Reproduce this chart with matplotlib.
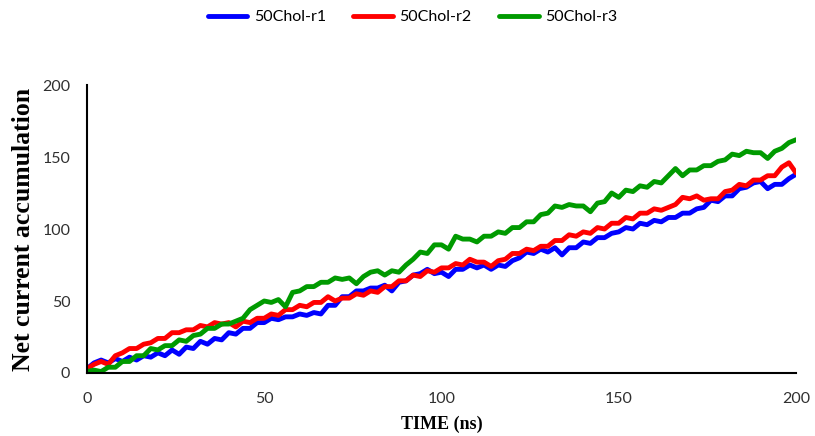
"""
Net current accumulation vs TIME, three 50Chol replicas
"""

import numpy as np
import matplotlib
matplotlib.use('Agg')
import matplotlib.pyplot as plt

# time axis (ns), one reading every 2 ns
time_ns = np.arange(0, 201, 2)

# values
r1 = [3, 7, 9, 7, 10, 8, 11, 9, 12, 11,
      14, 12, 16, 13, 18, 17, 22, 20, 24, 23,
      28, 27, 31, 31, 35, 35, 38, 37, 39, 39,
      41, 40, 42, 41, 47, 47, 53, 53, 57, 57,
      59, 59, 61, 57, 63, 64, 68, 69, 72, 69,
      70, 67, 72, 72, 75, 73, 75, 72, 75, 74,
      78, 80, 84, 83, 86, 84, 87, 82, 87, 87,
      91, 90, 94, 94, 97, 98, 101, 100, 104, 103,
      106, 105, 108, 108, 111, 111, 114, 115, 120, 119,
      123, 123, 128, 129, 132, 133, 128, 131, 131, 135,
      138]
r2 = [3, 6, 8, 6, 12, 14, 17, 17, 20, 21,
      24, 24, 28, 28, 30, 30, 33, 32, 35, 34,
      35, 32, 36, 35, 38, 38, 41, 40, 44, 44,
      47, 46, 49, 49, 53, 50, 52, 52, 55, 54,
      57, 56, 60, 60, 64, 64, 68, 67, 71, 70,
      73, 73, 76, 75, 79, 77, 77, 74, 78, 79,
      83, 83, 86, 85, 88, 88, 92, 92, 96, 95,
      98, 97, 101, 100, 104, 104, 108, 107, 111, 111,
      114, 113, 115, 117, 122, 121, 123, 120, 121, 121,
      126, 127, 131, 130, 134, 134, 137, 137, 143, 146,
      139]
r3 = [1, 2, 1, 4, 4, 8, 8, 12, 12, 17,
      16, 19, 19, 23, 22, 26, 27, 31, 31, 34,
      34, 36, 38, 44, 47, 50, 49, 51, 46, 56,
      57, 60, 60, 63, 63, 66, 65, 66, 62, 67,
      70, 71, 68, 71, 70, 75, 79, 84, 83, 89,
      89, 86, 95, 93, 93, 91, 95, 95, 98, 97,
      101, 101, 105, 105, 110, 111, 116, 115, 117, 116,
      116, 112, 118, 119, 125, 122, 127, 126, 130, 129,
      133, 132, 137, 142, 137, 141, 141, 144, 144, 147,
      148, 152, 151, 154, 153, 153, 149, 154, 156, 160,
      162]

series = ['50Chol-r1', '50Chol-r2', '50Chol-r3']
colors = ['#0000ff', '#ff0000', '#009a00']

x_ticks = [0, 50, 100, 150, 200]
y_ticks = [0, 50, 100, 150, 200]

fig = plt.figure(figsize=(8.15, 4.36), dpi=100)
ax = fig.add_axes([0.1067, 0.1445, 0.870, 0.6605])

for vals, name, c in zip([r1, r2, r3], series, colors):
    ax.plot(time_ns, vals, color=c, linewidth=3.5, label=name,
            solid_joinstyle='round', solid_capstyle='round')

ax.set_xlim(0, 200)
ax.set_ylim(0, 200)
ax.set_xticks(x_ticks)
ax.set_yticks(y_ticks)
ax.tick_params(length=0, labelsize=11.5, labelcolor='#303030')
ax.tick_params(axis='x', pad=14)
ax.tick_params(axis='y', pad=12)
for lab in ax.get_xticklabels() + ax.get_yticklabels():
    lab.set_family('Lato')

for side in ['top', 'right']:
    ax.spines[side].set_visible(False)
for side in ['left', 'bottom']:
    ax.spines[side].set_linewidth(1.5)
    ax.spines[side].set_color('black')

ax.set_xlabel('TIME (ns)', family='Liberation Serif', fontweight='bold',
              fontsize=13, labelpad=7)
ax.set_ylabel('Net current accumulation', family='Liberation Serif',
              fontweight='bold', fontsize=18.5, labelpad=5)

fig.legend(loc='upper center', bbox_to_anchor=(0.506, 1.01), ncol=3,
           frameon=False, prop={'family': 'Lato', 'size': 11.5},
           handlelength=2.5, handletextpad=0.4, columnspacing=1.7)

fig.savefig('out.png', dpi=100)
